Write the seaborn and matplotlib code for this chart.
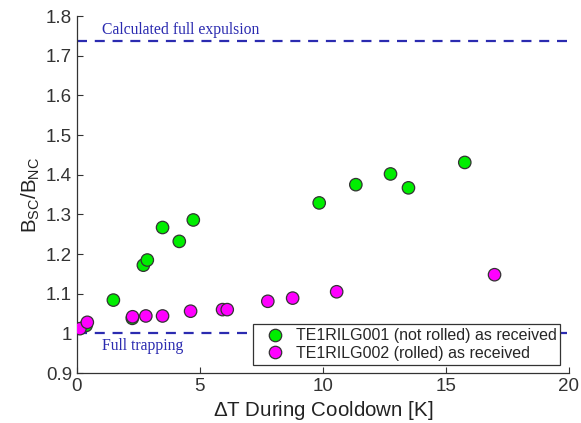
import matplotlib
matplotlib.use('Agg')
import matplotlib.pyplot as plt
import seaborn as sns
import pandas as pd
from matplotlib.ticker import FormatStrFormatter

# --- data ---
dt_001 = [0.37, 1.48, 2.25, 2.70, 2.86, 3.48, 4.16, 4.73, 9.85, 11.34, 12.75, 13.48, 15.77]
b_001 = [1.020, 1.084, 1.038, 1.172, 1.185, 1.267, 1.232, 1.286, 1.329, 1.375, 1.402, 1.367, 1.431]

dt_002 = [0.12, 0.42, 2.26, 2.80, 3.48, 4.62, 5.92, 6.11, 7.76, 8.77, 10.56, 16.98]
b_002 = [1.012, 1.028, 1.042, 1.044, 1.044, 1.056, 1.060, 1.060, 1.081, 1.089, 1.105, 1.148]

label_001 = "TE1RILG001 (not rolled) as received"
label_002 = "TE1RILG002 (rolled) as received"

full_expulsion = 1.738
full_trapping = 1.0

x_ticks = [0, 5, 10, 15, 20]
y_ticks = [0.9, 1.0, 1.1, 1.2, 1.3, 1.4, 1.5, 1.6, 1.7, 1.8]

df = pd.concat([
    pd.DataFrame({"dT": dt_001, "ratio": b_001, "Sample": label_001}),
    pd.DataFrame({"dT": dt_002, "ratio": b_002, "Sample": label_002}),
], ignore_index=True)

sns.set_style("white")
plt.rcParams['font.family'] = ['Liberation Sans', 'DejaVu Sans']
plt.rcParams['mathtext.fontset'] = 'custom'
plt.rcParams['mathtext.rm'] = 'Liberation Sans'

fig = plt.figure(figsize=(5.81, 4.23), dpi=100)
ax = fig.add_axes([0.1325, 0.118, 0.8465, 0.844])

line_col = '#2b2bb0'
ax.axhline(full_expulsion, color=line_col, lw=1.6, ls=(0, (4.5, 3.5)), zorder=1)
ax.axhline(full_trapping, color=line_col, lw=1.6, ls=(0, (4.5, 3.5)), zorder=1)

sns.scatterplot(data=df, x="dT", y="ratio", hue="Sample",
                palette={label_001: '#00ee00', label_002: '#ff00ff'},
                s=80, edgecolor='#333333', linewidth=0.9, ax=ax, zorder=3)

ax.text(1.0, 1.765, "Calculated full expulsion", color=line_col,
        family='Liberation Serif', fontsize=11.3, va='center', ha='left')
ax.text(1.0, 0.968, "Full trapping", color=line_col,
        family='Liberation Serif', fontsize=11.3, va='center', ha='left')

ax.set_xlim(0, 20)
ax.set_ylim(0.9, 1.8)
ax.set_xticks(x_ticks)
ax.set_yticks(y_ticks)
ax.yaxis.set_major_formatter(FormatStrFormatter('%g'))
ax.tick_params(direction='in', length=4, colors='#333333', labelsize=13.5,
               left=True, bottom=True)
for side in ['top', 'right']:
    ax.spines[side].set_visible(False)
for side in ['left', 'bottom']:
    ax.spines[side].set_color('#333333')
    ax.spines[side].set_linewidth(0.9)

ax.set_xlabel(r"$\Delta$T During Cooldown [K]", fontsize=14.8, color='#222222', labelpad=3)
ax.set_ylabel(r"$\mathregular{B_{SC}/B_{NC}}$", fontsize=14.8, color='#222222', labelpad=3)

leg = ax.legend(loc='lower right', bbox_to_anchor=(0.983, 0.024), fontsize=11.5,
                frameon=True, fancybox=False, edgecolor='#333333',
                handlelength=2.2, handletextpad=0.2, borderpad=0.25,
                labelspacing=0.15, borderaxespad=0.0)
leg.get_frame().set_linewidth(0.9)
leg.get_frame().set_alpha(1)

fig.savefig("out.png", dpi=100)
